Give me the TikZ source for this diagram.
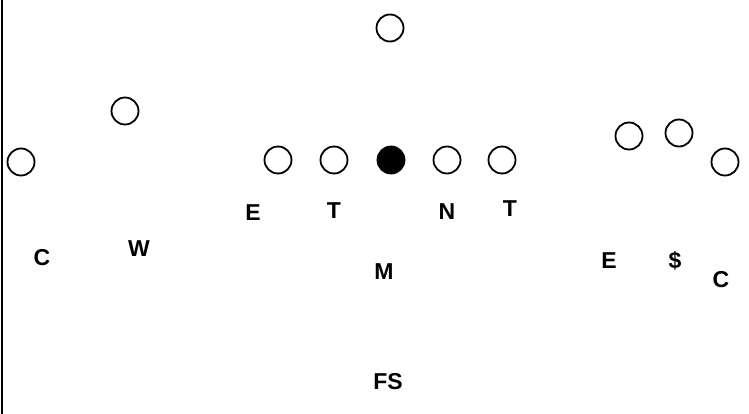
\documentclass[tikz,border=0pt]{standalone}
\usepackage{fontspec}
\setmainfont{Liberation Sans}
\begin{document}
\begin{tikzpicture}[x=1pt,y=-1pt,
  player/.style={circle,draw=black,line width=1.8pt,minimum size=27pt,inner sep=0pt},
  center/.style={player,fill=black},
  lbl/.style={font=\fontsize{23}{23}\selectfont\bfseries,inner sep=0pt,anchor=center}]
\useasboundingbox (0,0) rectangle (749,414);
\draw[line width=2pt] (2,0) -- (2,414);
% offense
\node[player] (o1) at (21,162) {};
\node[player] (o2) at (125,111) {};
\node[player] (qb) at (390,28) {};
\node[player] (lg1) at (278,160) {};
\node[player] (lg2) at (334,160) {};
\node[center] (c) at (391,160) {};
\node[player] (rg1) at (447,160) {};
\node[player] (rg2) at (502,160) {};
\node[player] (r1) at (629,136) {};
\node[player] (r2) at (679,133) {};
\node[player] (r3) at (725,162) {};
% defense
\node[lbl] (dC1) at (42,258) {C};
\node[lbl] (dW) at (139,249) {W};
\node[lbl] (dE1) at (253,213) {E};
\node[lbl] (dT1) at (334,211) {T};
\node[lbl] (dN) at (447,212) {N};
\node[lbl] (dT2) at (510,209) {T};
\node[lbl] (dM) at (384,272) {M};
\node[lbl] (dFS) at (388,382) {FS};
\node[lbl] (dE2) at (609,261) {E};
\node[lbl] (dS) at (675,261) {\$};
\node[lbl] (dC2) at (721,280) {C};
\end{tikzpicture}
\end{document}
